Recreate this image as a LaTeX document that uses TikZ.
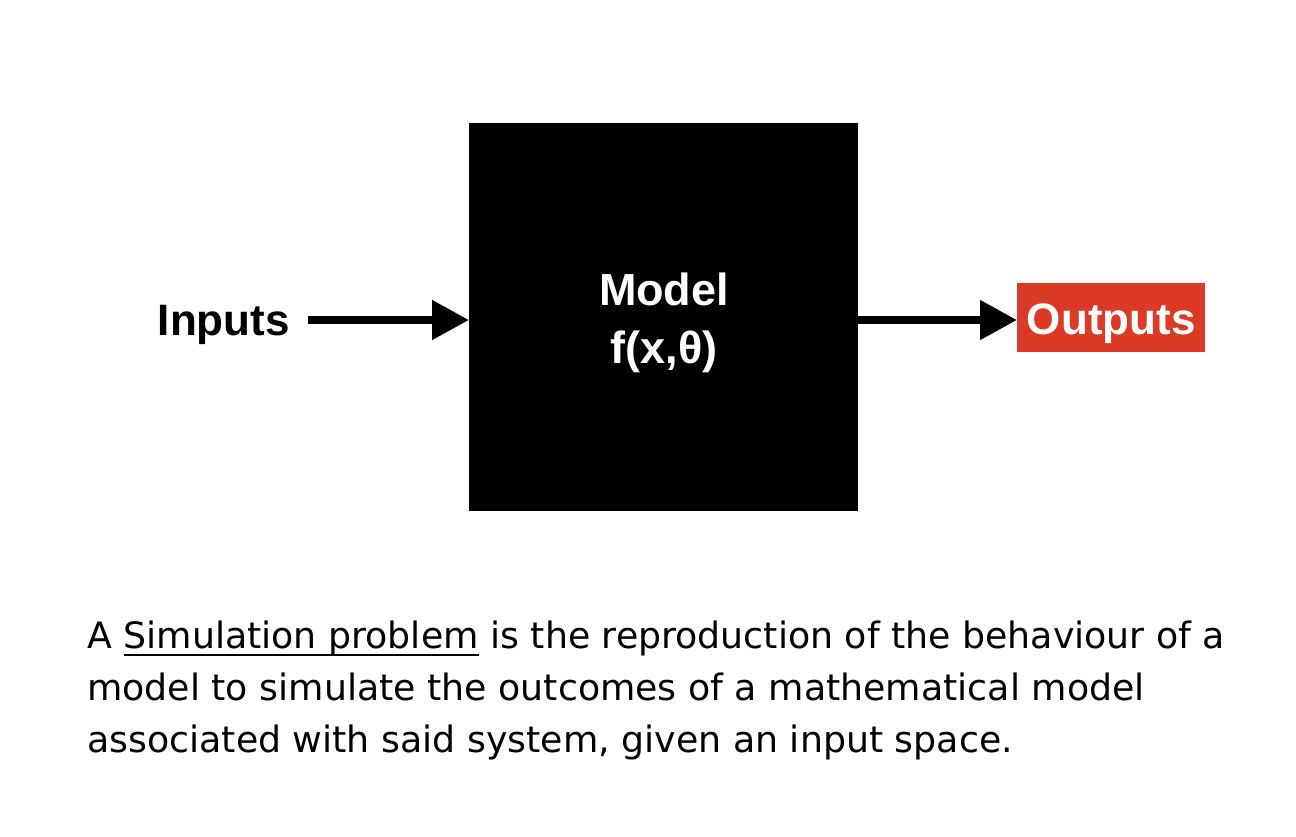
\documentclass[tikz,border=0pt]{standalone}
\usepackage{fontspec}
\setmainfont{Liberation Sans}
\newfontfamily\bodyfont{DejaVu Sans}
\usetikzlibrary{arrows.meta}
\definecolor{outred}{HTML}{DA3A26}
\newcommand\myuline[1]{\setbox0\hbox{#1}\rlap{\raisebox{-7pt}{\rule{\wd0}{2.2pt}}}\box0\relax}
\tikzset{
  flow/.style={line width=8pt,-{Triangle[length=37pt,width=38pt]}},
  lbl/.style={font=\fontsize{44}{50}\selectfont\bfseries,inner sep=0pt},
}
\begin{document}
\begin{tikzpicture}[x=1pt,y=-1pt]
\useasboundingbox (0,0) rectangle (1296,836);
\node[fill=black,minimum width=389pt,minimum height=388pt,inner sep=0pt,anchor=north west] (model) at (469,123) {};
\node[lbl,text=white,align=center,font=\fontsize{45}{50}\selectfont\bfseries] (mtext) at (664,323) {Model\\[8pt]f(x,θ)};
\node[lbl,anchor=base east] (inp) at (290,335) {Inputs};
\node[fill=outred,minimum width=188pt,minimum height=69pt,inner sep=0pt,anchor=north west] (out) at (1017,283) {};
\node[lbl,text=white,anchor=base] (outtext) at (out.center |- 0,334) {Outputs};
\coordinate (instart) at (308,320);
\draw[flow] (instart) -- (model.west |- instart);
\draw[flow] (model.east |- instart) -- (out.west |- instart);
\node[anchor=north west,inner sep=0pt,align=left,font=\bodyfont\fontsize{36.3}{52}\selectfont] (desc) at (87,621)
{A \myuline{Simulation problem} is the reproduction of the behaviour of a\\
model to simulate the outcomes of a mathematical model\\
associated with said system, given an input space.};
\end{tikzpicture}
\end{document}
